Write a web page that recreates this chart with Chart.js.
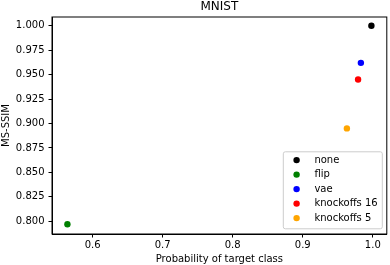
<!DOCTYPE html>
<html>
<head>
<meta charset="utf-8">
<script src="https://cdn.jsdelivr.net/npm/chart.js@4"></script>
<style>
  html, body { margin: 0; padding: 0; background: #fff; }
  #wrap { width: 390px; height: 265px; }
</style>
</head>
<body>
<div id="wrap"><canvas id="chart" width="390" height="265"></canvas></div>
<script>
const methods = ['none', 'flip', 'vae', 'knockoffs 16', 'knockoffs 5'];
const targetProb = [0.998, 0.564, 0.983, 0.979, 0.963];
const msSsim = [1.000, 0.797, 0.962, 0.945, 0.895];
const colors = ['#000000', '#008000', '#0000ff', '#ff0000', '#ffa500'];

const FONT = 'DejaVu Sans';

// matplotlib style legend in the lower right corner
const boxLegend = {
  id: 'boxLegend',
  afterDraw(chart) {
    const ctx = chart.ctx;
    const area = chart.chartArea;
    const w = 99, rowH = 14.5;
    const h = 77;
    const right = area.right - 5;
    const bottom = area.bottom - 5.7;
    const left = right - w, top = bottom - h;
    ctx.save();
    ctx.beginPath();
    ctx.roundRect(left + 0.5, top + 0.5, w, h, 2);
    ctx.fillStyle = 'rgba(255,255,255,0.8)';
    ctx.fill();
    ctx.strokeStyle = '#cccccc';
    ctx.lineWidth = 1;
    ctx.stroke();
    ctx.font = '10px "' + FONT + '"';
    ctx.textBaseline = 'middle';
    chart.data.datasets.forEach((ds, i) => {
      const y = top + 8.8 + i * rowH;
      ctx.beginPath();
      ctx.arc(left + 13.8, y, 3.2, 0, Math.PI * 2);
      ctx.fillStyle = ds.backgroundColor;
      ctx.fill();
      ctx.fillStyle = '#000';
      ctx.fillText(ds.label, left + 31.6, y);
    });
    ctx.restore();
  }
};

// top and right spines
const frame = {
  id: 'frame',
  beforeDatasetsDraw(chart) {
    const { ctx, chartArea: a } = chart;
    ctx.save();
    ctx.strokeStyle = '#000';
    ctx.lineWidth = 1;
    ctx.strokeRect(a.left, a.top, a.right - a.left, a.bottom - a.top);
    ctx.restore();
  }
};

new Chart(document.getElementById('chart'), {
  type: 'scatter',
  data: {
    datasets: methods.map((m, i) => ({
      label: m,
      data: [{ x: targetProb[i], y: msSsim[i] }],
      backgroundColor: colors[i],
      borderColor: colors[i],
      pointRadius: 3.2,
      pointHoverRadius: 3.2,
      borderWidth: 0
    }))
  },
  options: {
    responsive: false,
    animation: false,
    devicePixelRatio: 1,
    layout: { padding: { top: 0, right: 3, bottom: 0, left: 0 } },
    plugins: {
      legend: { display: false },
      tooltip: { enabled: false },
      title: {
        display: true,
        text: 'MNIST',
        color: '#000',
        fullSize: false,
        font: { family: FONT, size: 12, weight: 'normal' },
        padding: { top: 0, bottom: 2.6 }
      }
    },
    scales: {
      x: {
        type: 'linear',
        min: 0.542,
        max: 1.02,
        afterFit(scale) { scale.height = 31; },
        ticks: {
          stepSize: 0.1,
          includeBounds: false,
          color: '#000',
          padding: 2,
          font: { family: FONT, size: 10 },
          callback: v => v.toFixed(1)
        },
        grid: { drawOnChartArea: false, drawTicks: true, tickLength: 3.5, color: '#000' },
        border: { display: true, color: '#000' },
        title: {
          display: true,
          text: 'Probability of target class',
          color: '#000',
          font: { family: FONT, size: 10 },
          padding: 0
        }
      },
      y: {
        type: 'linear',
        min: 0.787,
        max: 1.0089,
        afterFit(scale) { scale.width = 52; },
        ticks: {
          stepSize: 0.025,
          includeBounds: false,
          color: '#000',
          padding: 4,
          font: { family: FONT, size: 10 },
          callback: v => v.toFixed(3)
        },
        grid: { drawOnChartArea: false, drawTicks: true, tickLength: 3.5, color: '#000' },
        border: { display: true, color: '#000' },
        title: {
          display: true,
          text: 'MS-SSIM',
          color: '#000',
          font: { family: FONT, size: 10 },
          padding: 0
        }
      }
    }
  },
  plugins: [frame, boxLegend]
});
</script>
</body>
</html>
